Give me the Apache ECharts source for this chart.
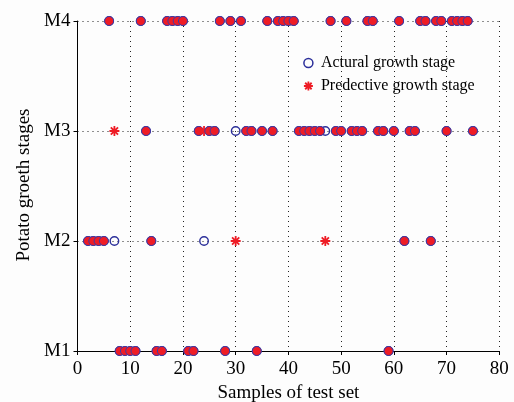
<!DOCTYPE html>
<html>
<head>
<meta charset="utf-8">
<script src="https://cdn.jsdelivr.net/npm/echarts@6/dist/echarts.min.js"></script>
<style>
html,body{margin:0;padding:0;background:#fdfdfd;}
#chart{width:514px;height:402px;}
</style>
</head>
<body>
<div id="chart"></div>
<script>
// Stage category labels (y axis)
const stageLabels = ['M1', 'M2', 'M3', 'M4'];
// x tick labels
const xTicks = [0, 10, 20, 30, 40, 50, 60, 70, 80];
// Sample indices of the test set
const samples = [2,3,4,5,6,7,8,9,10,11,12,13,14,15,16,17,18,19,20,21,22,23,24,25,26,27,28,29,30,31,32,33,34,35,36,37,38,39,40,41,42,43,44,45,46,47,48,49,50,51,52,53,54,55,56,57,58,59,60,61,62,63,64,65,66,67,68,69,70,71,72,73,74,75];
// Actual growth stage for each sample
const actualStage = [
  'M2','M2','M2','M2','M4','M2','M1','M1','M1','M1',
  'M4','M3','M2','M1','M1','M4','M4','M4','M4','M1',
  'M1','M3','M2','M3','M3','M4','M1','M4','M3','M4',
  'M3','M3','M1','M3','M4','M3','M4','M4','M4','M4',
  'M3','M3','M3','M3','M3','M3','M4','M3','M3','M4',
  'M3','M3','M3','M4','M4','M3','M3','M1','M3','M4',
  'M2','M3','M3','M4','M4','M2','M4','M4','M3','M4',
  'M4','M4','M4','M3'
];
// Predicted growth stage for each sample
const predictedStage = [
  'M2','M2','M2','M2','M4','M3','M1','M1','M1','M1',
  'M4','M3','M2','M1','M1','M4','M4','M4','M4','M1',
  'M1','M3','M3','M3','M3','M4','M1','M4','M2','M4',
  'M3','M3','M1','M3','M4','M3','M4','M4','M4','M4',
  'M3','M3','M3','M3','M3','M2','M4','M3','M3','M4',
  'M3','M3','M3','M4','M4','M3','M3','M1','M3','M4',
  'M2','M3','M3','M4','M4','M2','M4','M4','M3','M4',
  'M4','M4','M4','M3'
];

const RED = '#ee1c25';
const BLUE = '#2b2f9a';
const FONT = 'Liberation Serif';
const ASTERISK = 'path://M0,-5L0,5M-5,0L5,0M-3.6,-3.6L3.6,3.6M-3.6,3.6L3.6,-3.6';

const actualData = samples.map((s, i) => [s, actualStage[i]]);
const predData = samples.map((s, i) => {
  const match = predictedStage[i] === actualStage[i];
  if (match) {
    return {
      value: [s, predictedStage[i]],
      symbol: 'circle',
      symbolSize: 9,
      itemStyle: { color: RED, borderColor: '#3a3aa8', borderWidth: 1, opacity: 1 }
    };
  }
  return { value: [s, predictedStage[i]] };
});

const chart = echarts.init(document.getElementById('chart'), null, { renderer: 'canvas' });
const gridStyle = { color: '#222', type: [1, 4], width: 1 };
chart.setOption({
  backgroundColor: '#fdfdfd',
  animation: false,
  grid: { left: 77.5, right: 14.7, top: 21, bottom: 51, containLabel: false, outerBoundsMode: 'none' },
  xAxis: {
    type: 'value', min: xTicks[0], max: xTicks[xTicks.length - 1], interval: 10,
    name: 'Samples of test set', nameLocation: 'middle', nameGap: 32,
    nameTextStyle: { fontFamily: FONT, fontSize: 19, color: '#000' },
    axisLine: { show: true, lineStyle: { color: '#000', width: 1 } },
    axisTick: { show: true, inside: false, length: 4, lineStyle: { color: '#000' } },
    axisLabel: { fontFamily: FONT, fontSize: 19, color: '#000', margin: 9 },
    splitLine: { show: true, lineStyle: gridStyle }
  },
  yAxis: {
    type: 'category', data: stageLabels, boundaryGap: false,
    axisLine: { show: true, lineStyle: { color: '#000', width: 1 } },
    axisTick: { show: true, inside: false, length: 4, lineStyle: { color: '#000' } },
    axisLabel: { fontFamily: FONT, fontSize: 19, color: '#000', margin: 7 },
    splitLine: { show: true, lineStyle: gridStyle }
  },
  legend: {
    orient: 'vertical', left: 298, top: 50,
    itemWidth: 9, itemHeight: 9, itemGap: 7,
    textStyle: { fontFamily: FONT, fontSize: 16, color: '#000', padding: [0, 0, 0, 3] },
    data: [
      { name: 'Actural growth stage', icon: 'circle',
        itemStyle: { color: 'rgba(0,0,0,0)', borderColor: BLUE, borderWidth: 1.5 } },
      { name: 'Predective growth stage', icon: ASTERISK,
        itemStyle: { color: RED, borderColor: RED, borderWidth: 1.8 } }
    ]
  },
  graphic: [{
    type: 'text', x: 24, y: 185, rotation: Math.PI / 2,
    style: { text: 'Potato groeth stages', fontFamily: FONT, fontSize: 19, fill: '#000',
             align: 'center', verticalAlign: 'middle' }
  }],
  series: [
    {
      name: 'Actural growth stage', type: 'scatter', z: 2,
      symbol: 'circle', symbolSize: 8.5,
      itemStyle: { color: 'rgba(0,0,0,0)', borderColor: BLUE, borderWidth: 1.4, opacity: 1 },
      data: actualData
    },
    {
      name: 'Predective growth stage', type: 'scatter', z: 3,
      symbol: ASTERISK, symbolSize: 10,
      itemStyle: { color: RED, borderColor: RED, borderWidth: 1.8, opacity: 1 },
      data: predData
    }
  ]
});
</script>
</body>
</html>
